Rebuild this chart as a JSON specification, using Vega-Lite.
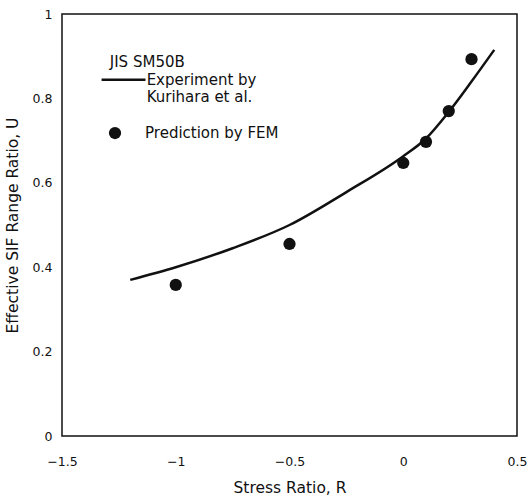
{
  "$schema": "https://vega.github.io/schema/vega-lite/v6.json",
  "width": 455,
  "height": 422,
  "autosize": "none",
  "padding": {"left": 62, "top": 14, "right": 12, "bottom": 61},
  "background": "white",
  "config": {
    "view": {"stroke": "#111", "strokeWidth": 1.5},
    "font": "DejaVu Sans",
    "axis": {"grid": false, "ticks": false, "domain": false, "labelFlush": false, "labelColor": "#111", "titleColor": "#111", "labelFontSize": 12.5, "titleFontSize": 15.5, "titleFontWeight": "normal", "labelFont": "DejaVu Sans", "titleFont": "DejaVu Sans"}
  },
  "datasets": {
    "curve": [
      {"R": -1.2, "U": 0.37},
      {"R": -1.0, "U": 0.4},
      {"R": -0.75, "U": 0.445},
      {"R": -0.5, "U": 0.5},
      {"R": -0.25, "U": 0.578},
      {"R": 0.0, "U": 0.663},
      {"R": 0.1, "U": 0.705},
      {"R": 0.2, "U": 0.768},
      {"R": 0.3, "U": 0.84},
      {"R": 0.4, "U": 0.915}
    ],
    "fem": [
      {"R": -1.0, "U": 0.358},
      {"R": -0.5, "U": 0.455},
      {"R": 0.0, "U": 0.647},
      {"R": 0.1, "U": 0.697},
      {"R": 0.2, "U": 0.77},
      {"R": 0.3, "U": 0.893}
    ],
    "legendText": [
      {"R": -1.29, "U": 0.886, "label": "JIS SM50B"},
      {"R": -1.128, "U": 0.844, "label": "Experiment by"},
      {"R": -1.128, "U": 0.803, "label": "Kurihara et al."},
      {"R": -1.135, "U": 0.718, "label": "Prediction by FEM"}
    ],
    "legendLine": [
      {"R": -1.326, "U": 0.844},
      {"R": -1.133, "U": 0.844}
    ],
    "legendDot": [
      {"R": -1.267, "U": 0.718}
    ]
  },
  "encoding": {
    "x": {"field": "R", "type": "quantitative", "scale": {"domain": [-1.5, 0.5], "padding": 0, "nice": false, "zero": false}, "axis": {"values": [-1.5, -1, -0.5, 0, 0.5], "title": "Stress Ratio, R", "labelPadding": 19, "titlePadding": 13, "format": "~g"}},
    "y": {"field": "U", "type": "quantitative", "scale": {"domain": [0, 1], "padding": 0, "nice": false}, "axis": {"values": [0, 0.2, 0.4, 0.6, 0.8, 1], "title": "Effective SIF Range Ratio, U", "labelPadding": 10, "titlePadding": 12, "format": "~g"}}
  },
  "layer": [
    {
      "data": {"name": "curve"},
      "mark": {"type": "line", "color": "#111", "strokeWidth": 2.5, "interpolate": "monotone"}
    },
    {
      "data": {"name": "fem"},
      "mark": {"type": "circle", "color": "#111", "opacity": 1, "size": 150}
    },
    {
      "data": {"name": "legendLine"},
      "mark": {"type": "line", "color": "#111", "strokeWidth": 2.5}
    },
    {
      "data": {"name": "legendDot"},
      "mark": {"type": "circle", "color": "#111", "opacity": 1, "size": 150}
    },
    {
      "data": {"name": "legendText"},
      "mark": {"type": "text", "align": "left", "baseline": "middle", "fontSize": 15, "color": "#111", "font": "DejaVu Sans"},
      "encoding": {
        "text": {"field": "label"}
      }
    }
  ]
}
